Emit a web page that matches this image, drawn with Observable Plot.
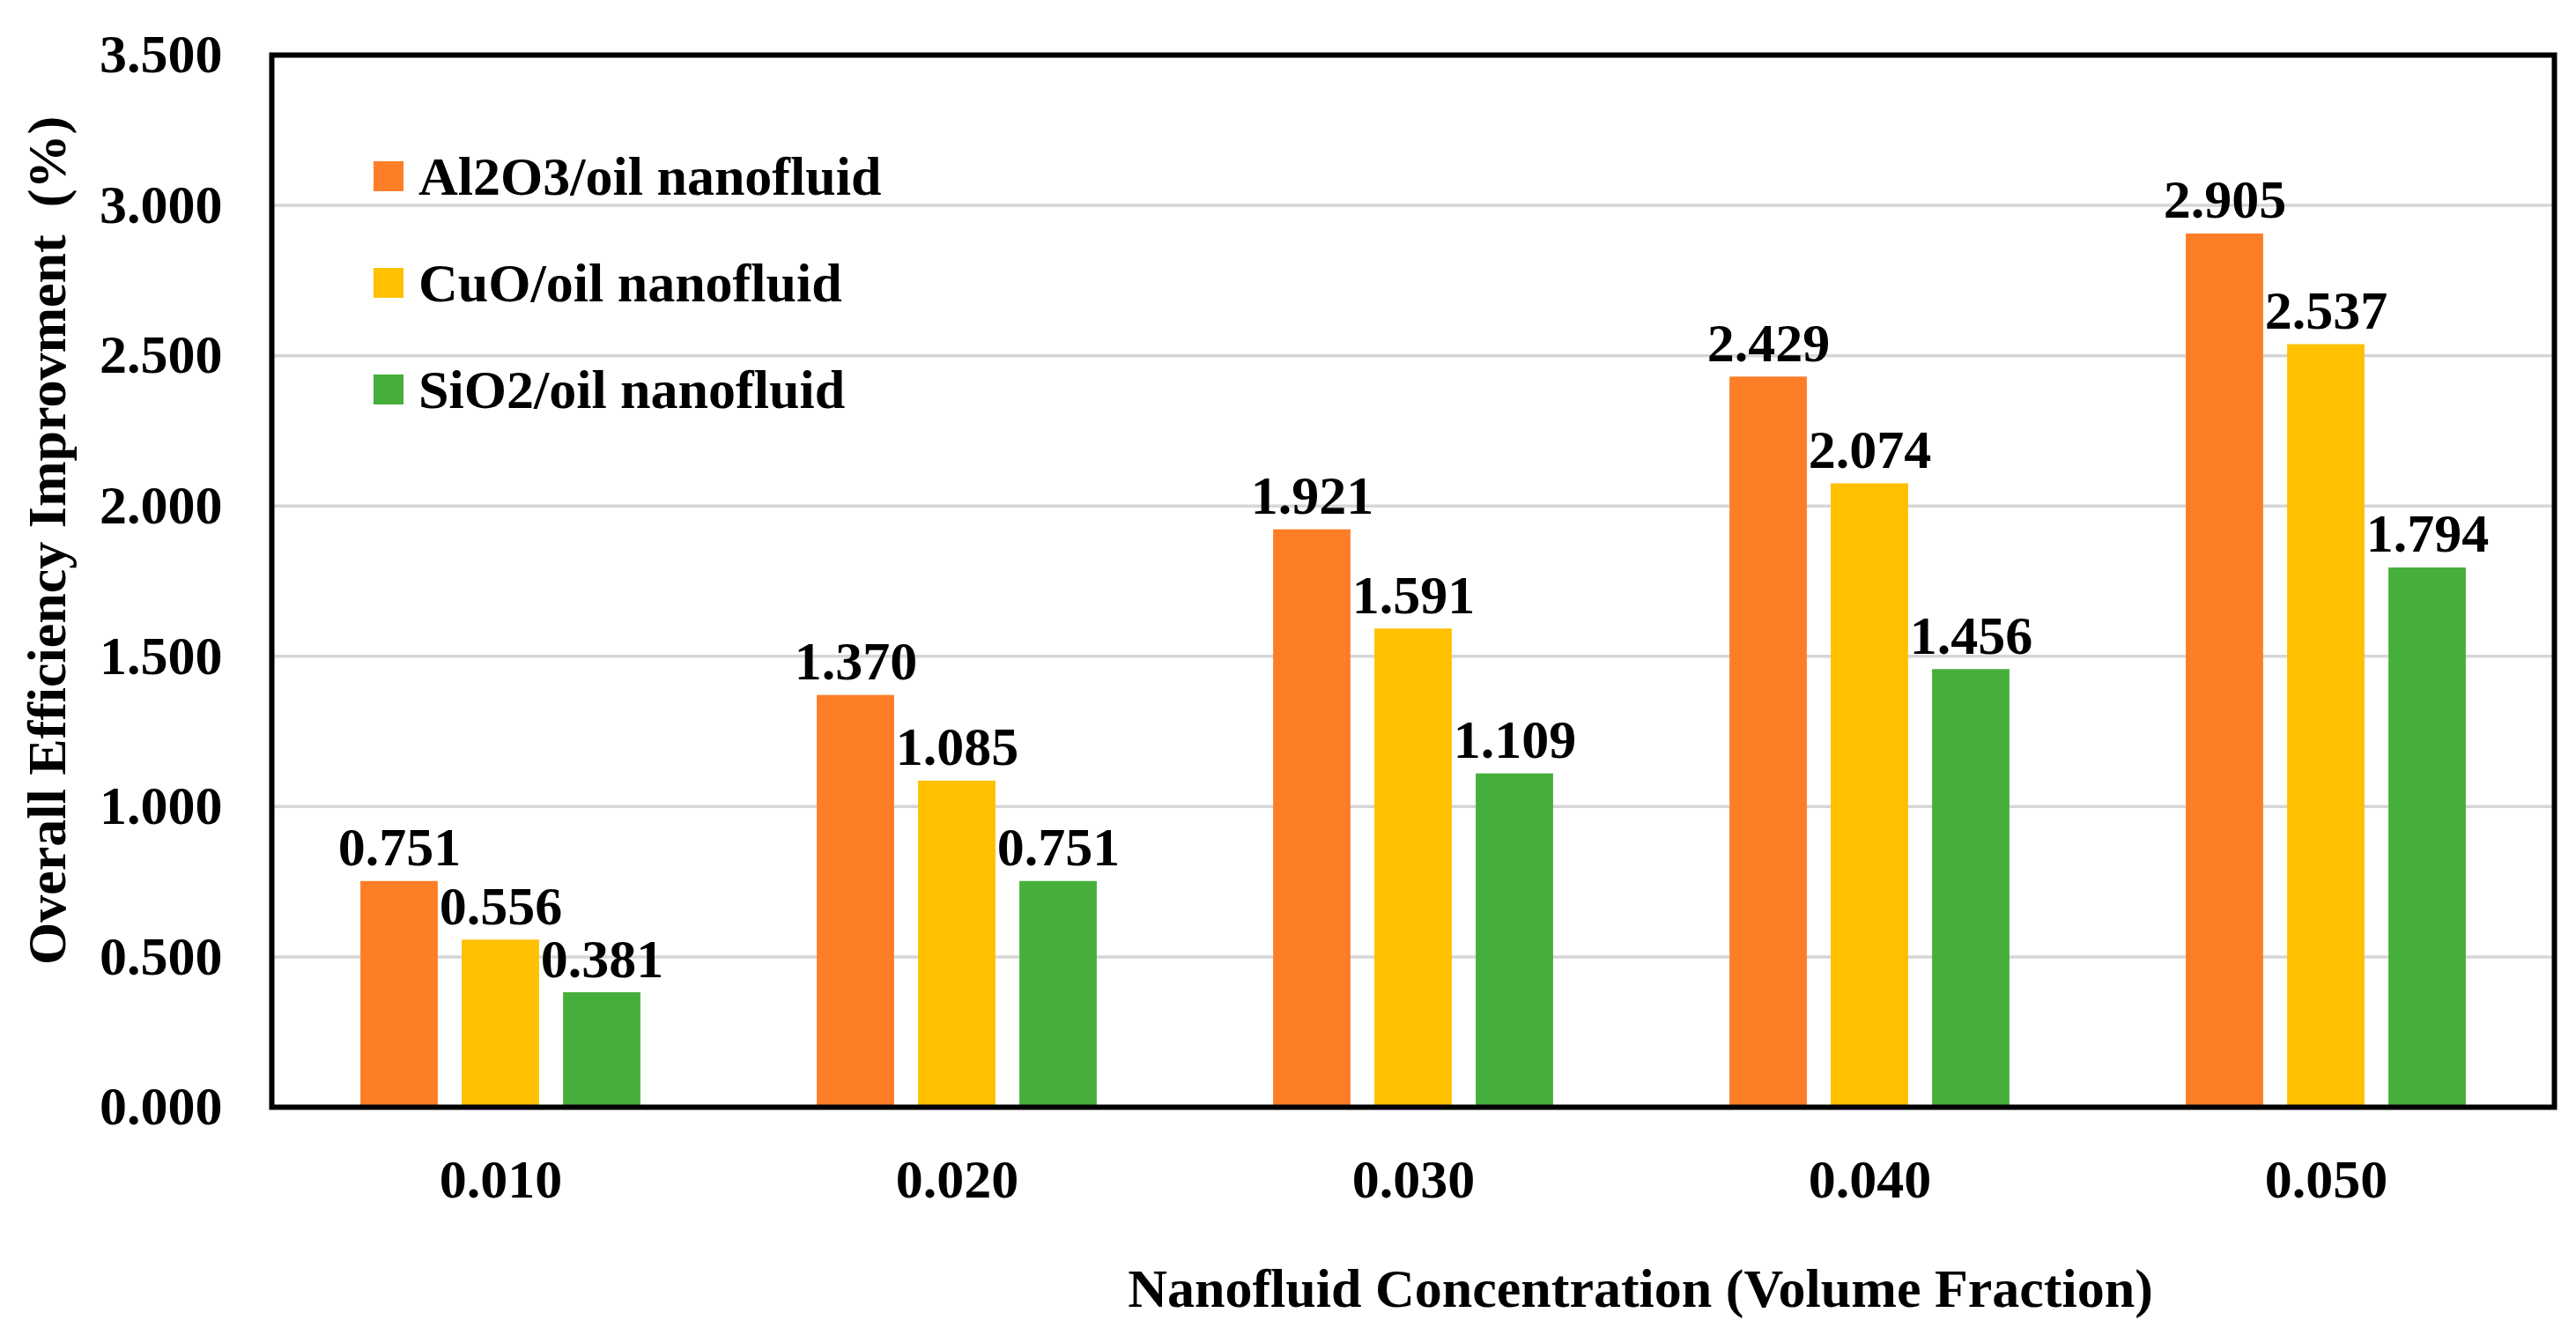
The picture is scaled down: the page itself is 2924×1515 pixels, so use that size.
<!DOCTYPE html>
<html>
<head>
<meta charset="utf-8">
<script src="https://cdn.jsdelivr.net/npm/d3@7"></script>
<script src="https://cdn.jsdelivr.net/npm/@observablehq/plot@0.6"></script>
<style>
  html, body { margin: 0; padding: 0; background: #fff; overflow: hidden; }
  #wrap { position: relative; width: 2924px; height: 1515px; }
  #legend { position: absolute; left: 424px; top: 166px; font-family: 'Liberation Serif', 'Times New Roman', serif; font-weight: bold; font-size: 62px; color: #000; }
  #legend .item { display: flex; align-items: center; height: 68px; margin-bottom: 53px; }
  #legend .sw { width: 34px; height: 34px; margin-right: 17px; flex: none; }
</style>
</head>
<body>
<div id="wrap"><div id="legend"></div></div>
<script>
const groups = ["0.010", "0.020", "0.030", "0.040", "0.050"];
const series = ["Al2O3/oil nanofluid", "CuO/oil nanofluid", "SiO2/oil nanofluid"];
const al2o3 = [0.751, 1.370, 1.921, 2.429, 2.905];
const cuo = [0.556, 1.085, 1.591, 2.074, 2.537];
const sio2 = [0.381, 0.751, 1.109, 1.456, 1.794];
const colors = ["#fd7e27", "#ffc000", "#46ae3b"];
const yTicks = [0, 0.5, 1.0, 1.5, 2.0, 2.5, 3.0, 3.5];
const yGrid = [0.5, 1.0, 1.5, 2.0, 2.5, 3.0];
const xTitle = "Nanofluid Concentration (Volume Fraction)";
const yTitle = "Overall Efficiency Improvment  (%)";

const values = [al2o3, cuo, sio2];
const rows = [];
series.forEach((s, i) => groups.forEach((g, j) => rows.push({group: g, series: s, value: values[i][j], si: i})));

const font = "'Liberation Serif', 'Times New Roman', serif";
const fs = 62;
const barW = 88, step = 115, band = (2924 - 308 - 25) / groups.length;

const marks = [Plot.gridY(yGrid, {stroke: "#d6d6d6", strokeOpacity: 1, strokeWidth: 3.5})];
series.forEach((s, i) => {
  const off = (i - 1) * step;
  const inset = (band - barW) / 2;
  const data = rows.filter(d => d.si === i);
  marks.push(Plot.barY(data, {x: "group", y: "value", fill: colors[i], insetLeft: inset + off, insetRight: inset - off}));
  marks.push(Plot.text(data, {x: "group", y: "value", text: d => d.value.toFixed(3), dx: off, dy: -18, lineAnchor: "bottom", fontSize: fs, fontWeight: "bold", fill: "#000"}));
});
marks.push(Plot.frame({stroke: "#000", strokeWidth: 6}));
marks.push(Plot.axisY({ticks: yTicks, tickFormat: d3.format(".3f"), tickSize: 0, tickPadding: 56, fontSize: fs, fontWeight: "bold", label: null}));
marks.push(Plot.axisX({tickSize: 0, tickPadding: 58, fontSize: fs, fontWeight: "bold", label: null}));
marks.push(Plot.text([yTitle], {frameAnchor: "left", textAnchor: "middle", lineAnchor: "middle", rotate: -90, dx: -254, dy: -46, fontSize: fs, fontWeight: "bold", fill: "#000"}));
marks.push(Plot.text([xTitle], {frameAnchor: "bottom", textAnchor: "middle", dx: 258, dy: 207, lineAnchor: "middle", fontSize: fs, fontWeight: "bold", fill: "#000"}));

const chart = Plot.plot({
  width: 2924,
  height: 1515,
  marginLeft: 308,
  marginRight: 25,
  marginTop: 62,
  marginBottom: 259,
  style: {fontFamily: font, fontSize: fs + "px", color: "#000", background: "#fff"},
  x: {domain: groups, padding: 0},
  y: {domain: [0, 3.5]},
  marks
});
document.getElementById("wrap").prepend(chart);

const legend = document.getElementById("legend");
series.forEach((s, i) => {
  const item = document.createElement("div");
  item.className = "item";
  const sw = document.createElement("span");
  sw.className = "sw";
  sw.style.background = colors[i];
  const t = document.createElement("span");
  t.textContent = s;
  item.append(sw, t);
  legend.append(item);
});
</script>
</body>
</html>
